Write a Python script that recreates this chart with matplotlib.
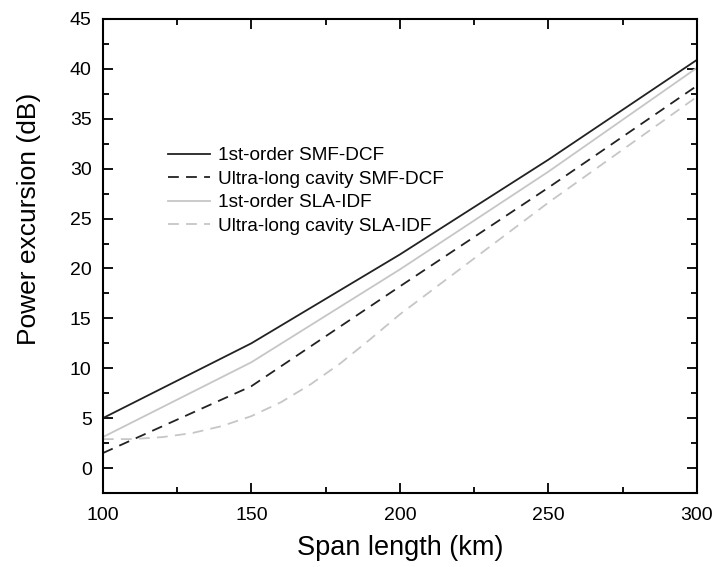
import matplotlib
matplotlib.use("Agg")
import matplotlib.pyplot as plt
from matplotlib.ticker import MultipleLocator

plt.rcParams['font.family'] = ['Liberation Sans', 'DejaVu Sans']

# span length (km) and power excursion (dB)
span = [100, 150, 200, 250, 300]
smf_1st = [5.0, 12.5, 21.4, 30.9, 40.9]
smf_ulc = [1.5, 8.2, 18.2, 28.1, 38.3]
sla_1st = [3.1, 10.6, 19.9, 29.7, 40.1]

span_fine = [100, 110, 120, 130, 140, 150, 160, 170, 180, 190, 200, 225, 250, 275, 300]
sla_ulc = [2.9, 2.9, 3.1, 3.5, 4.2, 5.2, 6.6, 8.4, 10.5, 12.9, 15.4, 21.0, 26.6, 31.9, 37.2]

fig = plt.figure(figsize=(7.14, 5.67), dpi=100)
ax = fig.add_axes([0.144, 0.1305, 0.832, 0.836])

lw = 1.3
ax.plot(span, smf_1st, color='#222222', lw=lw, label='1st-order SMF-DCF')
ax.plot(span, smf_ulc, color='#222222', lw=lw, dashes=(6, 4), label='Ultra-long cavity SMF-DCF')
ax.plot(span, sla_1st, color='#c6c6c6', lw=lw, label='1st-order SLA-IDF')
ax.plot(span_fine, sla_ulc, color='#c6c6c6', lw=lw, dashes=(6, 4), label='Ultra-long cavity SLA-IDF')

ax.set_xlim(100, 300)
ax.set_ylim(-2.5, 45)
ax.xaxis.set_major_locator(MultipleLocator(50))
ax.xaxis.set_minor_locator(MultipleLocator(25))
ax.yaxis.set_major_locator(MultipleLocator(5))
ax.yaxis.set_minor_locator(MultipleLocator(2.5))
ax.tick_params(which='both', direction='in', top=True, right=True, width=1.3)
ax.tick_params(which='major', length=7, labelsize=14)
ax.tick_params(axis='x', which='major', pad=10)
ax.tick_params(axis='y', which='major', pad=8)
ax.tick_params(which='minor', length=4)
for s in ax.spines.values():
    s.set_linewidth(1.5)

ax.set_xlabel('Span length (km)', fontsize=19.5, labelpad=8)
ax.set_ylabel('Power excursion (dB)', fontsize=19)
ax.yaxis.set_label_coords(-0.104, 0.578)

leg = ax.legend(loc='upper left', bbox_to_anchor=(0.081, 0.766), frameon=False,
                fontsize=13.7, handlelength=2.2, handletextpad=0.45, labelspacing=0.32)

fig.savefig('out.png', dpi=100)
